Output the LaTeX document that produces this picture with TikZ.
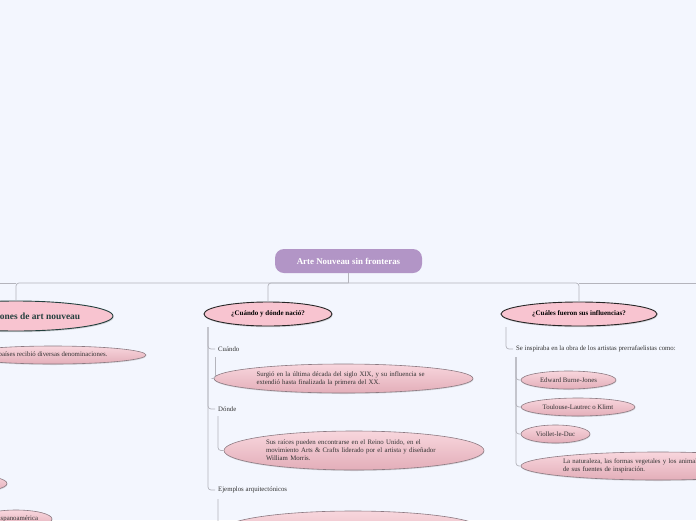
\documentclass[tikz,border=0pt]{standalone}
\usepackage{fontspec}
\setmainfont{Liberation Serif}
\usepackage{tikz}
\usetikzlibrary{positioning,shapes.geometric,shadows}

\definecolor{bgblue}{HTML}{F3F6FE}
\definecolor{rootpurple}{HTML}{B295C6}
\definecolor{topicpink}{HTML}{F8C4D0}
\definecolor{subtop}{HTML}{F8D6DD}
\definecolor{subbot}{HTML}{E3AEB9}
\definecolor{subline}{HTML}{8C7A82}
\definecolor{linegray}{HTML}{B4B4BC}
\definecolor{tealdark}{HTML}{24403E}

\tikzset{
	rootbox/.style={rectangle,rounded corners=9pt,fill=rootpurple,text=white,font=\bfseries\fontsize{8.9}{10}\selectfont,minimum width=147pt,minimum height=24pt,inner sep=0pt},
	topicell/.style={ellipse,draw=black!85,line width=0.9pt,fill=topicpink,font=\bfseries\fontsize{7}{8}\selectfont,inner sep=0pt,drop shadow={shadow xshift=0.6pt,shadow yshift=-1.2pt,opacity=0.3}},
	subell/.style={ellipse,draw=subline,line width=0.6pt,top color=subtop,bottom color=subbot,font=\fontsize{6.8}{8}\selectfont,text=black!80,inner sep=0pt,drop shadow={shadow xshift=0.4pt,shadow yshift=-1pt,opacity=0.25}},
	lbl/.style={anchor=west,inner sep=0pt,font=\fontsize{6.8}{8}\selectfont,text=black!80},
	conn/.style={draw=linegray,line width=0.7pt,rounded corners=3pt}
}

\begin{document}
\begin{tikzpicture}[x=1pt,y=-1pt]
	
	\useasboundingbox (0,0) rectangle (696,520);
	\fill[bgblue] (0,0) rectangle (696,520);
	\clip (0,0) rectangle (696,520);
	
	\node[rootbox] (root) at (348.5,261) {Arte Nouveau sin fronteras};
	\coordinate (bus) at (348.5,283);
	
	\node[topicell,draw=tealdark,text=tealdark,font=\bfseries\fontsize{9.4}{11}\selectfont,minimum width=194pt,minimum height=30pt] (t1) at (16,316) {Denominaciones de art nouveau};
	\node[topicell,minimum width=128pt,minimum height=24pt] (t2) at (268,314) {¿Cuándo y dónde nació?};
	\node[topicell,minimum width=156pt,minimum height=24pt] (t3) at (579,314) {¿Cuáles fueron sus influencias?};
	
	\draw[conn] (root.south) -- (bus);
	\draw[conn] (bus) -| (t1.north);
	\draw[conn] (bus) -| (t2.north);
	\draw[conn] (bus) -| (t3.north);
	\draw[conn] (t1.north |- bus) -- ++(-40,0);
	\draw[conn] (t3.north |- bus) -- ++(140,0);
	
	% izquierda
	\node[subell,minimum width=186pt,minimum height=18pt] (denom) at (53,355) {países recibió diversas denominaciones.};
	\node[subell,minimum width=74pt,minimum height=17pt] (pais) at (-30,483.5) {};
	\node[subell,minimum width=72pt,minimum height=18pt] (hispano) at (16,519) {Hispanoamérica};
	
	% centro
	\coordinate (m0) at (208,327);
	\node[lbl] (cuando) at (218,349) {Cuándo};
	\node[lbl] (donde) at (218,409) {Dónde};
	\node[lbl] (ejemplos) at (218,490) {Ejemplos arquitectónicos};
	\draw[conn,shorten >=3pt] (m0) |- (cuando.west);
	\draw[conn,shorten >=3pt] (m0) |- (donde.west);
	\draw[conn,shorten >=3pt] (m0) |- (ejemplos.west);
	
	\node[subell,minimum width=259pt,minimum height=29pt,text width=174pt,align=left] (surgio) at (343.5,378.5) {Surgió en la última década del siglo XIX, y su influencia se\\extendió hasta finalizada la primera del XX.};
	\node[subell,minimum width=260pt,minimum height=39pt,text width=176pt,align=left] (raices) at (354,450.5) {Sus raíces pueden encontrarse en el Reino Unido, en el\\movimiento Arts \& Crafts liderado por el artista y diseñador\\William Morris.};
	\node[subell,minimum width=260pt,minimum height=38pt] (ejem) at (353,530) {};
	
	\coordinate (c1) at (215.5,357);
	\coordinate (c2) at (218,416);
	\coordinate (c3) at (218,499);
	\draw[conn] (c1) |- (surgio.west);
	\draw[conn] (c2) |- (raices.west);
	\draw[conn] (c3) |- (ejem.west);
	
	% derecha
	\coordinate (r0) at (506,327);
	\node[lbl] (inspira) at (516,349) {Se inspiraba en la obra de los artistas prerrafaelistas como:};
	\draw[conn,shorten >=3pt] (r0) |- (inspira.west);
	
	\node[subell,minimum width=95pt,minimum height=18pt] (burne) at (568.5,380) {Edward Burne-Jones};
	\node[subell,minimum width=114pt,minimum height=18pt] (toulouse) at (578,407) {Toulouse-Lautrec o Klimt};
	\node[subell,minimum width=69pt,minimum height=18pt] (viollet) at (555.5,434) {Viollet-le-Duc};
	\node[subell,minimum width=274pt,minimum height=28pt,text width=190pt,align=left] (natur) at (658,466) {La naturaleza, las formas vegetales y los animales fueron una\\de sus fuentes de inspiración.};
	
	\coordinate (r1) at (516,357);
	\draw[conn] (r1) |- (burne.west);
	\draw[conn] (r1) |- (toulouse.west);
	\draw[conn] (r1) |- (viollet.west);
	\draw[conn] (r1) |- (natur.west);
	
\end{tikzpicture}
\end{document}
